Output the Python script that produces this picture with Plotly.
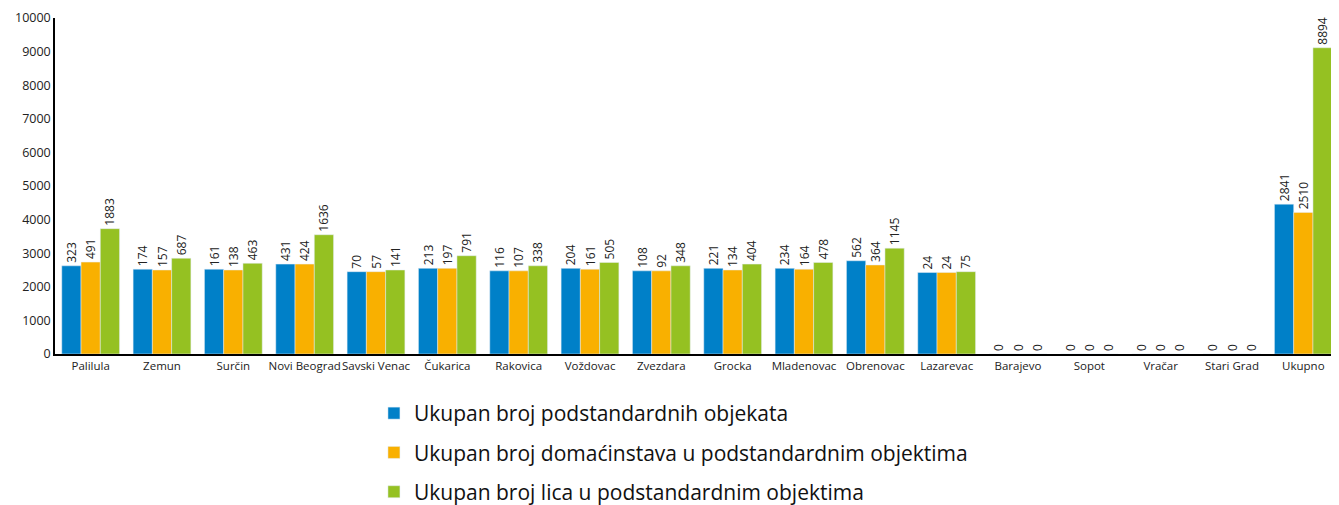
import plotly.graph_objects as go

# Opštine
opstine = ["Palilula", "Zemun", "Surčin", "Novi Beograd", "Savski Venac", "Čukarica",
           "Rakovica", "Voždovac", "Zvezdara", "Grocka", "Mladenovac", "Obrenovac",
           "Lazarevac", "Barajevo", "Sopot", "Vračar", "Stari Grad", "Ukupno"]

# Vrednosti iz oznaka na stubovima
objekti = [323, 174, 161, 431, 70, 213, 116, 204, 108, 221, 234, 562, 24, 0, 0, 0, 0, 2841]
domacinstva = [491, 157, 138, 424, 57, 197, 107, 161, 92, 134, 164, 364, 24, 0, 0, 0, 0, 2510]
lica = [1883, 687, 463, 1636, 141, 791, 338, 505, 348, 404, 478, 1145, 75, 0, 0, 0, 0, 8894]

# Visine stubova kako su ocitane sa ose na slici
visina_objekti = [2625, 2525, 2525, 2675, 2450, 2550, 2475, 2550, 2475, 2550, 2550, 2775,
                  2425, 0, 0, 0, 0, 4460]
visina_domacinstva = [2735, 2500, 2500, 2675, 2450, 2550, 2475, 2525, 2475, 2500, 2525, 2650,
                      2425, 0, 0, 0, 0, 4215]
visina_lica = [3730, 2850, 2700, 3550, 2500, 2925, 2625, 2725, 2625, 2675, 2725, 3150,
               2450, 0, 0, 0, 0, 9115]

serije = [
    ("Ukupan broj podstandardnih objekata", visina_objekti, objekti, "#0080C8"),
    ("Ukupan broj domaćinstava u podstandardnim objektima", visina_domacinstva, domacinstva, "#F9B000"),
    ("Ukupan broj lica u podstandardnim objektima", visina_lica, lica, "#95C122"),
]

fig = go.Figure()
for i, (ime, visine, vrednosti, boja) in enumerate(serije):
    fig.add_trace(go.Bar(
        x=opstine, y=visine, name=ime, marker_color=boja,
        text=[str(v) for v in vrednosti], textposition="outside", textangle=-90,
        textfont=dict(size=12, color="#222222"), cliponaxis=False,
        constraintext="none", legendgroup=str(i),
    ))

# stranica ima 8px margine oko grafikona, pa je figura manja od prozora
fig.update_layout(
    width=1331, height=497,
    margin=dict(l=47, r=0, t=10, b=151, autoexpand=False),
    plot_bgcolor="white", paper_bgcolor="white",
    font=dict(family="Open Sans", size=12, color="#222222"),
    barmode="group", bargap=0.19, bargroupgap=0,
    showlegend=True,
    legend=dict(x=0.2484, y=-0.116, xanchor="left", yanchor="top",
                font=dict(size=21, color="#111111"), tracegroupgap=9,
                itemwidth=30),
    uniformtext=dict(minsize=12, mode="show"),
)
fig.update_yaxes(range=[0, 10000], dtick=1000, tickformat="d", showgrid=False,
                 showline=True, linecolor="black", linewidth=1.5, ticks="",
                 zeroline=False, tickfont=dict(size=12.5))
fig.update_xaxes(showline=True, linecolor="black", linewidth=1.5, ticks="",
                 tickangle=0, tickfont=dict(size=11.5))

fig.write_html("out.html")
